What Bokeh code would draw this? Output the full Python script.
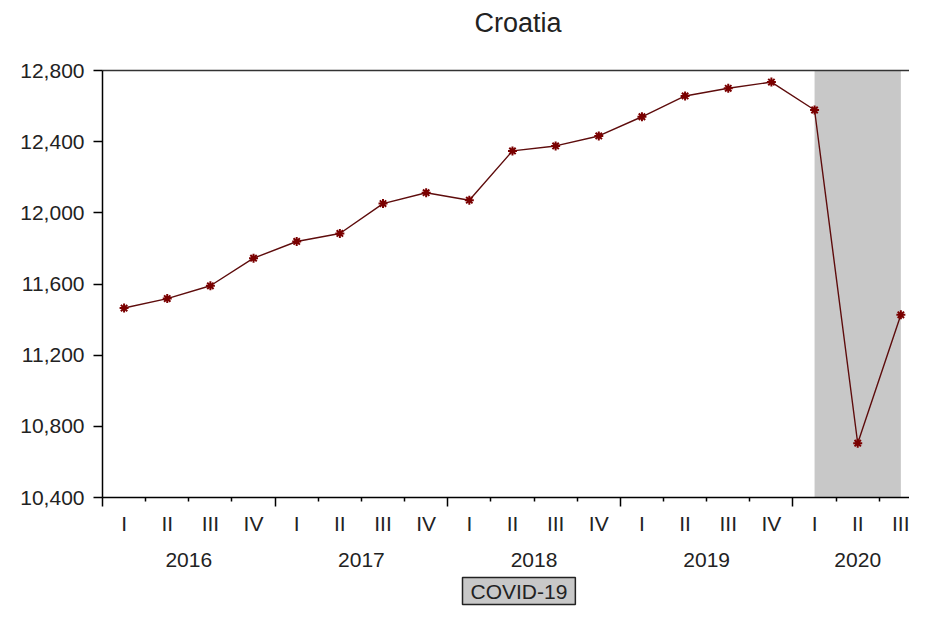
from bokeh.plotting import figure
from bokeh.models import (FixedTicker, LinearAxis, Range1d, BoxAnnotation, Title,
                          NumeralTickFormatter, CustomJSTickFormatter)
from bokeh.embed import file_html
from bokeh.resources import INLINE

# ---- data ----
title_text = "Croatia"
quarter_labels = ["I", "II", "III", "IV", "I", "II", "III", "IV", "I", "II", "III", "IV",
                  "I", "II", "III", "IV", "I", "II", "III"]
year_labels = ["2016", "2017", "2018", "2019", "2020"]
year_centers = [1.5, 5.5, 9.5, 13.5, 17.0]
values = [11465, 11518, 11590, 11745, 11839, 11884, 12052, 12113, 12071, 12348,
          12376, 12432, 12540, 12657, 12700, 12735, 12578, 10705, 11427]
y_ticks = [10400, 10800, 11200, 11600, 12000, 12400, 12800]
year_bounds = [-0.5, 3.5, 7.5, 11.5, 15.5]
quarter_bounds = [0.5, 1.5, 2.5, 4.5, 5.5, 6.5, 8.5, 9.5, 10.5, 12.5, 13.5, 14.5, 16.5, 17.5]
shade_start, shade_end = 16, 18
shade_label = "COVID-19"

xs = list(range(len(values)))
FONT = "Liberation Sans"
TXT = "#222222"

p = figure(width=909, height=610, output_backend="svg", toolbar_location=None,
           x_range=Range1d(-0.5, 18.2), y_range=Range1d(10400, 12800),
           min_border_left=102, min_border_right=0, min_border_top=70, min_border_bottom=113)
p.background_fill_color = "white"
p.border_fill_color = "white"
p.outline_line_color = None
p.xgrid.visible = False
p.ygrid.visible = False

xa = p.below[0]
ya = p.left[0]

# top frame line (axis without ticks/labels)
top = LinearAxis(ticker=FixedTicker(ticks=[]))
top.axis_line_color = "#333333"
top.axis_line_width = 1.5
top.major_tick_line_color = None
top.minor_tick_line_color = None
top.major_label_text_font_size = "0px"
top.major_label_standoff = 0
p.add_layout(top, "above")

# spacer between frame and title
p.add_layout(Title(text=" ", text_font_size="23px", standoff=0), "above")

# title
p.title.text = title_text
p.title.align = "left"
p.title.offset = 372
p.title.text_font = FONT
p.title.text_font_size = "27px"
p.title.text_font_style = "normal"
p.title.text_color = TXT

# shaded region
p.add_layout(BoxAnnotation(left=shade_start, right=shade_end, fill_color="#c8c8c8",
                           fill_alpha=1.0, line_color=None, level="underlay"))

p.line(xs, values, line_color="#5e0c0c", line_width=1.4)
p.scatter(xs, values, marker="asterisk", size=9, line_color="#7a0000", line_width=2)

# y axis
ya.ticker = FixedTicker(ticks=y_ticks)
ya.formatter = NumeralTickFormatter(format="0,0")
ya.major_tick_in = 0
ya.major_tick_out = 9
ya.minor_tick_line_color = None
ya.major_label_standoff = 9
ya.axis_line_color = "black"
ya.axis_line_width = 1.5
ya.major_tick_line_width = 1.5
ya.major_label_text_font = FONT
ya.major_label_text_font_size = "21px"
ya.major_label_text_color = TXT

# main x axis: tick marks only
xa.ticker = FixedTicker(ticks=year_bounds, minor_ticks=quarter_bounds)
xa.formatter = CustomJSTickFormatter(code="return ''")
xa.major_tick_in = 0
xa.major_tick_out = 9
xa.minor_tick_in = 0
xa.minor_tick_out = 4
xa.major_tick_line_width = 1.5
xa.minor_tick_line_width = 1.5
xa.axis_line_color = "black"
xa.axis_line_width = 1.5
xa.major_label_text_font_size = "0px"
xa.major_label_standoff = 0

# quarter labels axis
qa = LinearAxis(ticker=FixedTicker(ticks=xs),
                major_label_overrides={i: q for i, q in zip(xs, quarter_labels)})
qa.axis_line_color = None
qa.major_tick_line_color = None
qa.minor_tick_line_color = None
qa.major_label_standoff = -1
qa.major_label_text_font = FONT
qa.major_label_text_font_size = "21px"
qa.major_label_text_color = TXT
p.add_layout(qa, "below")

# year labels axis
ya2 = LinearAxis(ticker=FixedTicker(ticks=year_centers),
                 major_label_overrides={c: y for c, y in zip(year_centers, year_labels)})
ya2.axis_line_color = None
ya2.major_tick_line_color = None
ya2.minor_tick_line_color = None
ya2.major_label_standoff = 9
ya2.major_label_text_font = FONT
ya2.major_label_text_font_size = "21px"
ya2.major_label_text_color = TXT
p.add_layout(ya2, "below")

# legend-like box
covid = Title(text=shade_label, align="left", offset=360, standoff=12,
              text_font=FONT, text_font_size="21px", text_font_style="normal",
              text_color=TXT, background_fill_color="#c8c8c8",
              border_line_color="#222222", border_line_width=1.5, padding=(8, 2))
p.add_layout(covid, "below")

open("out.html", "w").write(file_html(p, INLINE))
